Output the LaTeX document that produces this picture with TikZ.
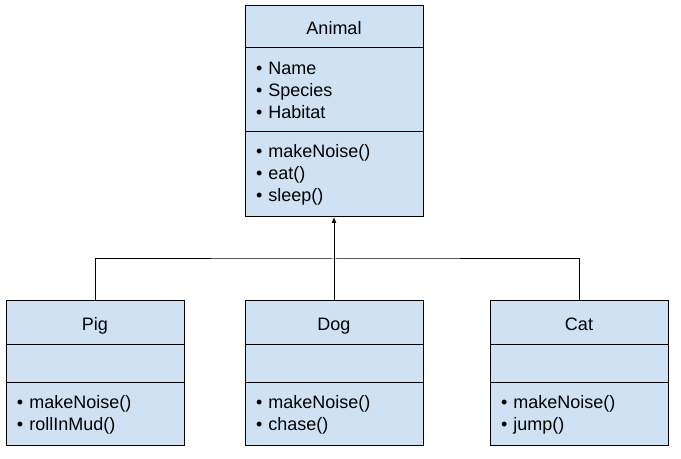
\documentclass[tikz,border=0pt]{standalone}
\usepackage{fontspec}
\setmainfont{Liberation Sans}
\usetikzlibrary{positioning,arrows.meta}

\definecolor{umlblue}{HTML}{CFE2F3}

\tikzset{
    part/.style={draw=black, fill=umlblue, line width=0.5pt, outer sep=0pt,
        inner xsep=5.5pt, inner ysep=0pt, text width=78pt,
        font=\fontsize{9}{11}\selectfont},
    head/.style={part, align=center, text height=8.5pt, text depth=0.5pt},
    list/.style={part, align=left},
    link/.style={line width=0.5pt, black},
}

\begin{document}
\begin{tikzpicture}[x=0.5pt,y=-0.5pt]
    \useasboundingbox (0,0) rectangle (681,459);
    % parent class
    \node[head, anchor=north, minimum height=21pt] (animal) at (334,6) {Animal};
    \node[list, minimum height=42pt, below=0pt of animal] (animalattr)
        {\textbullet{} Name\\ \textbullet{} Species\\ \textbullet{} Habitat};
    \node[list, minimum height=42.5pt, below=0pt of animalattr] (animalops)
        {\textbullet{} makeNoise()\\ \textbullet{} eat()\\ \textbullet{} sleep()};
    % child classes
    \foreach \cls/\xc/\title/\ops in {
        pig/95/Pig/{\textbullet{} makeNoise()\\ \textbullet{} rollInMud()},
        dog/334/Dog/{\textbullet{} makeNoise()\\ \textbullet{} chase()},
        cat/579/Cat/{\textbullet{} makeNoise()\\ \textbullet{} jump()}} {
        \node[head, anchor=north, minimum height=22pt] (\cls) at (\xc,301) {\title};
        \node[list, minimum height=19pt, below=0pt of \cls] (\cls attr) {};
        \node[list, minimum height=31.5pt, below=0pt of \cls attr] (\cls ops) {\ops};
    }
    % inheritance
    \coordinate (join) at (334,259);
    \draw[link] (pig.north) |- (join) -| (cat.north);
    \draw[link, -{Latex[length=3pt,width=2.5pt]}] (dog.north) -- (animalops.south);
\end{tikzpicture}
\end{document}
